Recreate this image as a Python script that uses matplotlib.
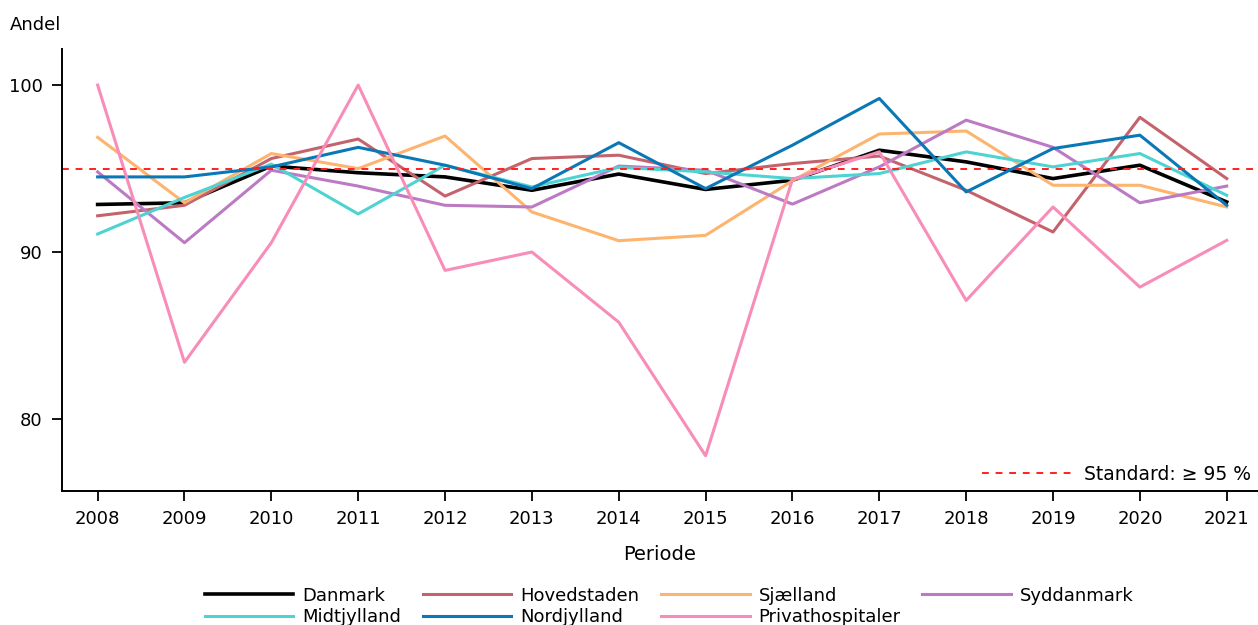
import matplotlib
matplotlib.use("Agg")
import matplotlib.pyplot as plt

years = list(range(2008, 2022))
danmark = [92.85, 92.95, 95.15, 94.75, 94.5, 93.7, 94.67, 93.75, 94.3, 96.1, 95.4, 94.4, 95.2, 93.0]
hovedstaden = [92.17, 92.8, 95.6, 96.77, 93.35, 95.6, 95.8, 94.7, 95.3, 95.75, 93.7, 91.2, 98.07, 94.4]
sjaelland = [96.87, 92.95, 95.9, 95.0, 96.95, 92.4, 90.68, 91.0, 94.27, 97.07, 97.25, 94.0, 94.0, 92.7]
syddanmark = [94.8, 90.56, 94.9, 93.95, 92.8, 92.7, 95.15, 94.9, 92.87, 95.1, 97.9, 96.27, 92.95, 93.95]
midtjylland = [91.08, 93.27, 95.27, 92.28, 95.2, 93.9, 95.07, 94.8, 94.4, 94.7, 96.0, 95.1, 95.9, 93.4]
nordjylland = [94.5, 94.5, 95.1, 96.27, 95.2, 93.8, 96.55, 93.8, 96.4, 99.2, 93.6, 96.2, 97.0, 92.8]
privat = [100.0, 83.4, 90.56, 100.0, 88.9, 90.0, 85.8, 77.8, 94.35, 96.0, 87.1, 92.7, 87.9, 90.7]
standard = 95

series = [
    ("Danmark", danmark, "#000000"),
    ("Hovedstaden", hovedstaden, "#c4636c"),
    ("Sjælland", sjaelland, "#fdb46e"),
    ("Syddanmark", syddanmark, "#bd7ac4"),
    ("Midtjylland", midtjylland, "#4dd3d1"),
    ("Nordjylland", nordjylland, "#0a78b6"),
    ("Privathospitaler", privat, "#f78db8"),
]

plt.rcParams['font.family'] = ['DejaVu Sans']
fig = plt.figure(figsize=(12.58, 6.25), dpi=100)
ax = fig.add_axes([0.0493, 0.2144, 0.9507, 0.7072])

handles = {}
for name, vals, col in series:
    lw = 2.6 if name == "Danmark" else 2.2
    h, = ax.plot(years, vals, color=col, lw=lw, label=name)
    handles[name] = h

std = ax.axhline(standard, color="#ff2020", lw=1.4, ls=(0, (3.5, 3.5)), label="Standard: ≥ 95 %")

ax.set_xlim(2007.59, 2021.36)
ax.set_ylim(75.69, 102.16)
ax.set_xticks(years)
ax.set_yticks([80, 90, 100])
ax.tick_params(labelsize=13, length=7, width=1.3, pad=7)
for s in ["top", "right"]:
    ax.spines[s].set_visible(False)
ax.spines["left"].set_linewidth(1.4)
ax.spines["bottom"].set_linewidth(1.4)

ax.set_xlabel("Periode", fontsize=14, labelpad=12)
fig.text(0.008, 0.96, "Andel", fontsize=13, ha="left", va="center")

ax.legend(handles=[std], loc="lower right", frameon=False, fontsize=13.5,
          handlelength=4.8, handletextpad=0.6, borderaxespad=0.0,
          bbox_to_anchor=(1.0, 0.0))

# column-major order so that rows read: Danmark, Hovedstaden, Sjælland, Syddanmark / Midtjylland, Nordjylland, Privathospitaler
order = ["Danmark", "Midtjylland", "Hovedstaden", "Nordjylland",
         "Sjælland", "Privathospitaler", "Syddanmark"]
fig.legend(handles=[handles[n] for n in order], loc="upper center",
           bbox_to_anchor=(0.532, 0.073), ncol=4, frameon=False, fontsize=13,
           handlelength=4.9, columnspacing=1.2, labelspacing=0.2,
           borderaxespad=0, handletextpad=0.5)

fig.savefig("out.png", dpi=100)
